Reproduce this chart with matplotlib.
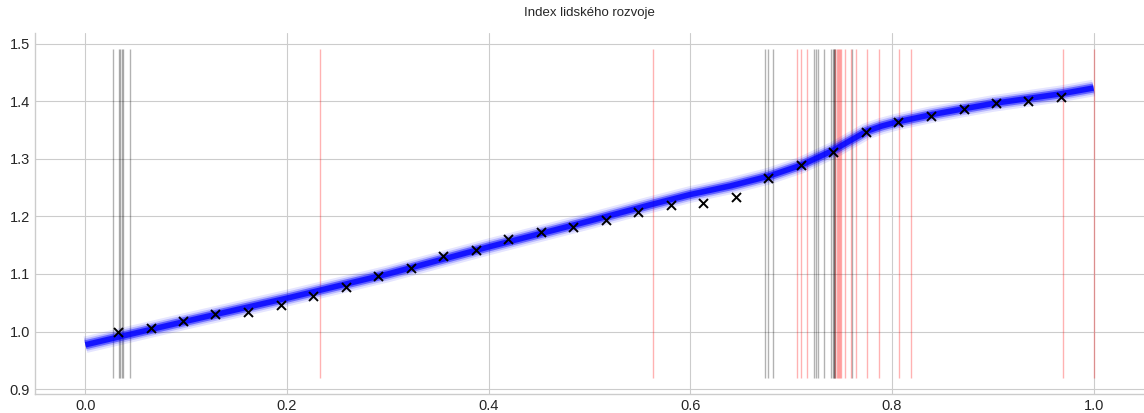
import matplotlib.pyplot as plt
import numpy as np

# pozorovane body (x = stredy binu, y = prumer)
obs_x = [0.032, 0.065, 0.097, 0.129, 0.161, 0.194, 0.226, 0.258, 0.290, 0.323,
         0.355, 0.387, 0.419, 0.452, 0.484, 0.516, 0.548, 0.581, 0.613, 0.645,
         0.677, 0.710, 0.742, 0.774, 0.806, 0.839, 0.871, 0.903, 0.935, 0.968]
obs_y = [1.000, 1.006, 1.019, 1.030, 1.034, 1.046, 1.062, 1.078, 1.097, 1.111,
         1.131, 1.142, 1.161, 1.173, 1.182, 1.193, 1.207, 1.220, 1.224, 1.234,
         1.266, 1.290, 1.311, 1.346, 1.364, 1.375, 1.386, 1.397, 1.401, 1.407]

# odhadnuta krivka (stred pasu vzorku)
fit_x = [0.0, 0.1, 0.2, 0.3, 0.4, 0.5, 0.56, 0.6, 0.64, 0.678, 0.71, 0.742,
         0.775, 0.79, 0.805, 0.84, 0.9, 0.968, 1.0]
fit_y = [0.977, 1.018, 1.058, 1.100, 1.147, 1.192, 1.220, 1.238, 1.253, 1.270,
         1.289, 1.315, 1.348, 1.357, 1.364, 1.377, 1.396, 1.413, 1.423]

# svisle cary
gray_x = [0.027, 0.033, 0.0345, 0.036, 0.0375, 0.044,
          0.674, 0.677, 0.682, 0.723, 0.725, 0.727, 0.733,
          0.740, 0.742, 0.7425, 0.743, 0.7435, 0.760]
red_x = [0.2327, 0.5627, 0.7056, 0.710, 0.716, 0.744, 0.745, 0.746, 0.747,
         0.748, 0.749, 0.7535, 0.759, 0.7647, 0.7756, 0.787, 0.807, 0.8185,
         0.970, 1.0]
line_min, line_max = 0.92, 1.49

plt.style.use('seaborn-v0_8-whitegrid')
plt.rcParams['font.family'] = ['Liberation Sans', 'DejaVu Sans']
fig = plt.figure(figsize=(11.44, 4.13), dpi=100)
ax = fig.add_axes([35 / 1144, 19 / 413, 1109 / 1144, 361 / 413])

ax.vlines(gray_x, line_min, line_max, color='black', alpha=0.3, linewidth=1)
ax.vlines(red_x, line_min, line_max, color='red', alpha=0.3, linewidth=1)

# pas vzorku
for lw, a in [(12, 0.1), (9, 0.2), (6.5, 0.45), (4, 0.8)]:
    ax.plot(fit_x, fit_y, color='blue', linewidth=lw, alpha=a,
            solid_capstyle='butt', solid_joinstyle='round')

ax.scatter(obs_x, obs_y, marker='x', color='black', s=42, linewidths=1.4, zorder=5)

ax.set_title('Index lidského rozvoje', fontsize=9.5, color='0.15', pad=12)
ax.set_xticks([0.0, 0.2, 0.4, 0.6, 0.8, 1.0])
ax.set_yticks([0.9, 1.0, 1.1, 1.2, 1.3, 1.4, 1.5])
ax.tick_params(labelsize=10.5, colors='0.15')
ax.spines['right'].set_visible(False)
ax.spines['top'].set_visible(False)

plt.savefig('out.png', dpi=100, facecolor='white')
